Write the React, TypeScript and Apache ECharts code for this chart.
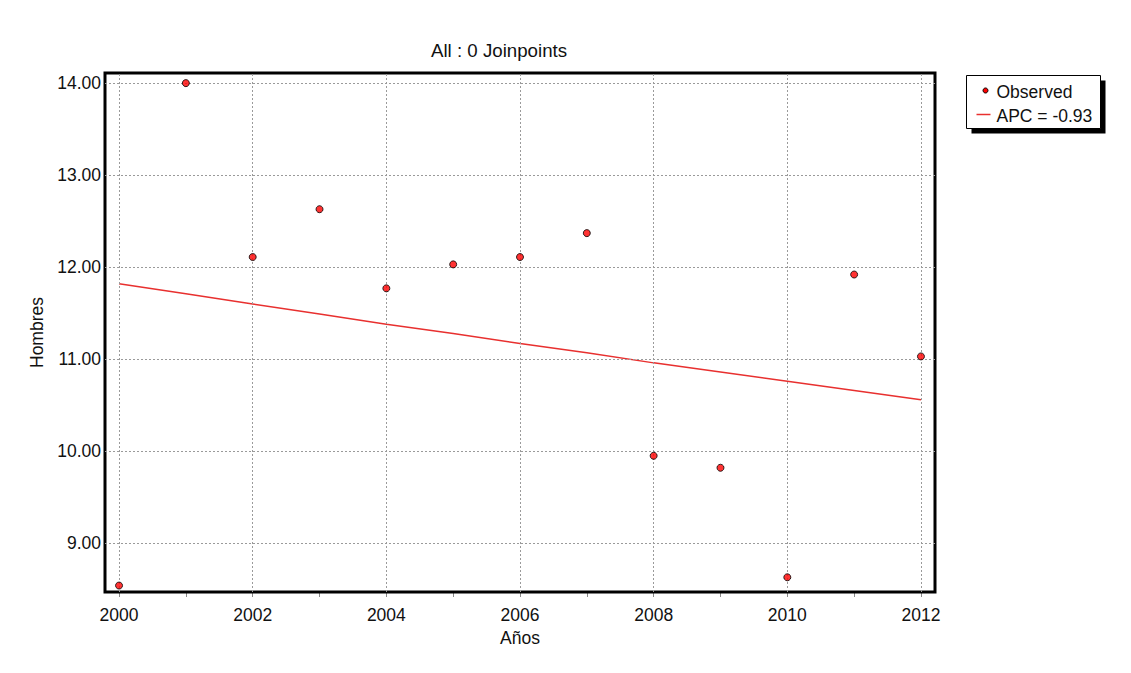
import React, { useEffect, useRef } from "react";
import * as echarts from "echarts";

// Observed rates by year
const years = [2000, 2001, 2002, 2003, 2004, 2005, 2006, 2007, 2008, 2009, 2010, 2011, 2012];
const observed = [8.54, 14.0, 12.11, 12.63, 11.77, 12.03, 12.11, 12.37, 9.95, 9.82, 8.63, 11.92, 11.03];
// Fitted joinpoint model values (APC = -0.93)
const fitted = [11.82, 11.71, 11.6, 11.49, 11.38, 11.28, 11.17, 11.07, 10.96, 10.86, 10.76, 10.66, 10.56];

const xTickValues = [2000, 2001, 2002, 2003, 2004, 2005, 2006, 2007, 2008, 2009, 2010, 2011, 2012];
const xLabelValues = [2000, 2002, 2004, 2006, 2008, 2010, 2012];
const yTickValues = [9, 10, 11, 12, 13, 14];

const titleText = "All : 0 Joinpoints";
const observedName = "Observed";
const fitName = "APC = -0.93";
const xName = "Años";
const yName = "Hombres";

const FONT = "Liberation Sans, Arial, sans-serif";
const FS = 17.5;

export default function App() {
  const ref = useRef<HTMLDivElement>(null);

  useEffect(() => {
    document.body.style.margin = "0";
    const chart = echarts.init(ref.current!, null, { renderer: "svg" });
    const gridStyle = { color: "#9a9a9a", width: 1, type: [2, 2] as any };

    chart.setOption({
      animation: false,
      backgroundColor: "#ffffff",
      textStyle: { fontFamily: FONT },
      grid: {
        left: 105,
        top: 73,
        width: 830,
        height: 519,
        show: true,
        borderColor: "#000",
        borderWidth: 3,
        backgroundColor: "transparent",
        z: 3,
      },
      xAxis: {
        type: "value",
        min: 1999.79,
        max: 2012.21,
        axisLine: { show: false },
        axisTick: {
          show: true,
          length: 5,
          lineStyle: { color: "#888", width: 1 },
          customValues: xTickValues,
        },
        axisLabel: {
          customValues: xLabelValues,
          formatter: (v: number) => String(Math.round(v)),
          color: "#111",
          fontSize: FS,
          fontFamily: FONT,
          margin: 14,
        },
        splitLine: { show: false },
        name: xName,
        nameLocation: "middle",
        nameGap: 36,
        nameTextStyle: { color: "#111", fontSize: FS, fontFamily: FONT },
      },
      yAxis: {
        type: "value",
        min: 8.47,
        max: 14.11,
        axisLine: { show: false },
        axisTick: { show: false, customValues: yTickValues },
        axisLabel: {
          customValues: yTickValues,
          formatter: (v: number) => v.toFixed(2),
          color: "#111",
          fontSize: FS,
          fontFamily: FONT,
          margin: 4,
        },
        splitLine: { show: false },
        name: yName,
        nameLocation: "middle",
        nameGap: 58,
        nameRotate: 90,
        nameTextStyle: { color: "#111", fontSize: FS, fontFamily: FONT },
      },
      series: [
        {
          // dotted reference grid drawn on the axes' scales
          type: "line",
          data: [],
          silent: true,
          markLine: {
            silent: true,
            symbol: "none",
            label: { show: false },
            lineStyle: gridStyle,
            data: [
              ...xLabelValues.map((x) => ({ xAxis: x })),
              ...yTickValues.map((y) => ({ yAxis: y })),
            ],
          },
        },
        {
          name: fitName,
          type: "line",
          data: years.map((y, i) => [y, fitted[i]]),
          showSymbol: false,
          lineStyle: { color: "#e8302f", width: 1.5 },
          z: 4,
        },
        {
          name: observedName,
          type: "scatter",
          data: years.map((y, i) => [y, observed[i]]),
          symbolSize: 7,
          itemStyle: { color: "#ff0000", borderColor: "#000", borderWidth: 1 },
          z: 5,
        },
      ],
      graphic: [
        {
          type: "text",
          left: 431,
          top: 41,
          style: { text: titleText, fontSize: 18.7, fontFamily: FONT, fill: "#111" },
        },
        {
          type: "group",
          left: 966,
          top: 75,
          children: [
            { type: "rect", shape: { x: 5, y: 5, width: 134, height: 53 }, style: { fill: "#000" } },
            {
              type: "rect",
              shape: { x: 0, y: 0, width: 134, height: 53 },
              style: { fill: "#fff", stroke: "#000", lineWidth: 1 },
            },
            {
              type: "circle",
              shape: { cx: 19, cy: 15, r: 2.5 },
              style: { fill: "#ff0000", stroke: "#000", lineWidth: 1 },
            },
            {
              type: "text",
              x: 30,
              y: 16,
              style: { text: observedName, fontSize: FS, fontFamily: FONT, fill: "#111", verticalAlign: "middle" },
            },
            {
              type: "line",
              shape: { x1: 10, y1: 39, x2: 24, y2: 39 },
              style: { stroke: "#e8302f", lineWidth: 1.5 },
            },
            {
              type: "text",
              x: 30,
              y: 40,
              style: { text: fitName, fontSize: FS, fontFamily: FONT, fill: "#111", verticalAlign: "middle" },
            },
          ],
        },
      ],
    });
    return () => chart.dispose();
  }, []);

  return <div ref={ref} style={{ width: 1131, height: 673 }} />;
}
